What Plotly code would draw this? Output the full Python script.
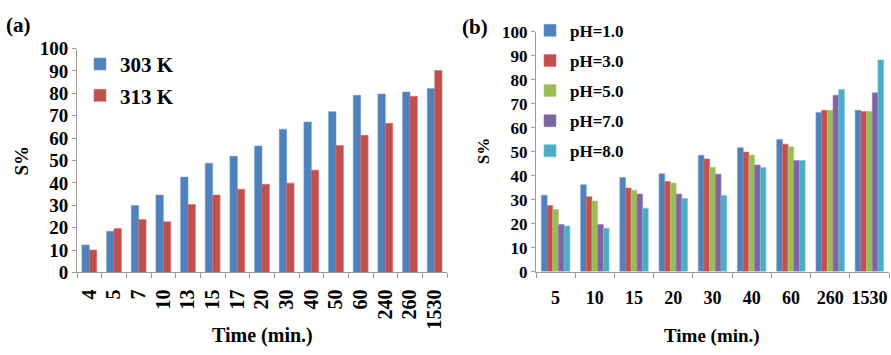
import plotly.graph_objects as go

# ---------------- data ----------------
times_a = ["4", "5", "7", "10", "13", "15", "17", "20", "30", "40", "50", "60", "240", "260", "1530"]
s_303K = [12.3, 18.4, 29.9, 34.6, 42.6, 48.8, 51.9, 56.5, 64.0, 67.2, 71.8, 79.1, 79.7, 80.6, 82.2]
s_313K = [10.0, 19.6, 23.7, 22.7, 30.4, 34.6, 37.2, 39.4, 39.9, 45.7, 56.7, 61.3, 66.6, 78.7, 90.2]

times_b = ["5", "10", "15", "20", "30", "40", "60", "260", "1530"]
s_ph1 = [31.8, 36.2, 39.2, 40.8, 48.5, 51.6, 55.0, 66.3, 67.2]
s_ph3 = [27.5, 31.2, 34.8, 37.5, 46.9, 49.8, 53.1, 67.2, 66.7]
s_ph5 = [25.9, 29.4, 33.9, 36.9, 43.5, 48.6, 52.0, 67.2, 66.7]
s_ph7 = [19.6, 19.6, 32.3, 32.3, 40.6, 44.4, 46.3, 73.5, 74.5]
s_ph8 = [19.0, 18.0, 26.4, 30.5, 31.7, 43.4, 46.3, 75.9, 88.2]

names_a = ["303 K", "313 K"]
names_b = ["pH=1.0", "pH=3.0", "pH=5.0", "pH=7.0", "pH=8.0"]
y_ticks = [0, 10, 20, 30, 40, 50, 60, 70, 80, 90, 100]

# ---------------- style ----------------
W, H = 891, 355
FONT = "Liberation Serif, 'Times New Roman', 'DejaVu Serif', serif"
colors = ["#4F81BD", "#C0504D", "#9BBB59", "#8064A2", "#4BACC6"]
edge = ["#6E9AD0", "#D46F6C", "#B2CF76", "#9A80BC", "#70C2D8"]
axis_col = "#9A9A9A"

def px_x(p):
    return p / W

def px_y(p):
    return 1 - p / H

fig = go.Figure()

# panel (a)
wa = 0.30
for i, (nm, vals) in enumerate(zip(names_a, [s_303K, s_313K])):
    fig.add_trace(go.Bar(
        x=times_a, y=vals, name=nm, xaxis="x", yaxis="y",
        width=wa, offset=-wa + i * wa,
        marker=dict(color=colors[i], line=dict(color=edge[i], width=0.6)),
        legend="legend", legendgroup="a%d" % i,
    ))

# panel (b)
wb = 0.145
series_b = [s_ph1, s_ph3, s_ph5, s_ph7, s_ph8]
for i, (nm, vals) in enumerate(zip(names_b, series_b)):
    fig.add_trace(go.Bar(
        x=times_b, y=vals, name=nm, xaxis="x2", yaxis="y2",
        width=wb, offset=-2.5 * wb + i * wb,
        marker=dict(color=colors[i], line=dict(color=edge[i], width=0.6)),
        legend="legend2", legendgroup="b%d" % i,
    ))

xcommon = dict(type="category", showline=True, linecolor=axis_col, linewidth=1,
               ticks="outside", tickcolor=axis_col, ticklen=5, tickson="boundaries",
               showgrid=False, zeroline=False, fixedrange=True)
ycommon = dict(range=[0, 100], tickvals=y_ticks, showline=True, linecolor=axis_col,
               linewidth=1, ticks="outside", tickcolor=axis_col, ticklen=4,
               showgrid=False, zeroline=False, fixedrange=True)

fig.update_layout(
    width=W, height=H,
    margin=dict(l=0, r=0, t=0, b=0),
    paper_bgcolor="white", plot_bgcolor="white",
    barmode="group",
    font=dict(family=FONT, color="black"),
    xaxis=dict(xcommon, domain=[px_x(77), px_x(447)], anchor="y",
               tickangle=-90, ticklabelstandoff=8,
               tickfont=dict(family=FONT, size=20, weight="bold")),
    yaxis=dict(ycommon, domain=[px_y(279), px_y(41)], anchor="x",
               tickfont=dict(family=FONT, size=19, weight="bold")),
    xaxis2=dict(xcommon, domain=[px_x(536), px_x(889)], anchor="y2",
                tickangle=0, ticklabelstandoff=10,
                tickfont=dict(family=FONT, size=18, weight="bold")),
    yaxis2=dict(ycommon, domain=[px_y(278), px_y(23)], anchor="x2",
                tickfont=dict(family=FONT, size=17, weight="bold")),
    legend=dict(x=px_x(80), y=px_y(36), xanchor="left", yanchor="top",
                bgcolor="rgba(0,0,0,0)", tracegroupgap=1, itemwidth=30,
                font=dict(family=FONT, size=21, weight="bold")),
    legend2=dict(x=px_x(530), y=px_y(3), xanchor="left", yanchor="top",
                 bgcolor="rgba(0,0,0,0)", tracegroupgap=5, itemwidth=30,
                 font=dict(family=FONT, size=17, weight="bold")),
    showlegend=True,
)

ann = [
    dict(text="(a)", x=px_x(4), y=px_y(16), xanchor="left", yanchor="middle", size=21),
    dict(text="(b)", x=px_x(460), y=px_y(18), xanchor="left", yanchor="middle", size=21),
    dict(text="S%", x=px_x(22), y=px_y(160), xanchor="center", yanchor="middle", size=19, angle=-90),
    dict(text="S%", x=px_x(483), y=px_y(150), xanchor="center", yanchor="middle", size=17, angle=-90),
    dict(text="Time (min.)", x=px_x(262), y=px_y(346), xanchor="center", yanchor="middle", size=20),
    dict(text="Time (min.)", x=px_x(712), y=px_y(346), xanchor="center", yanchor="middle", size=19),
]
for a in ann:
    fig.add_annotation(text=a["text"], x=a["x"], y=a["y"], xref="paper", yref="paper",
                       xanchor=a["xanchor"], yanchor=a["yanchor"], showarrow=False,
                       textangle=a.get("angle", 0),
                       font=dict(family=FONT, size=a["size"], color="black", weight="bold"))

fig.write_html("out.html")
